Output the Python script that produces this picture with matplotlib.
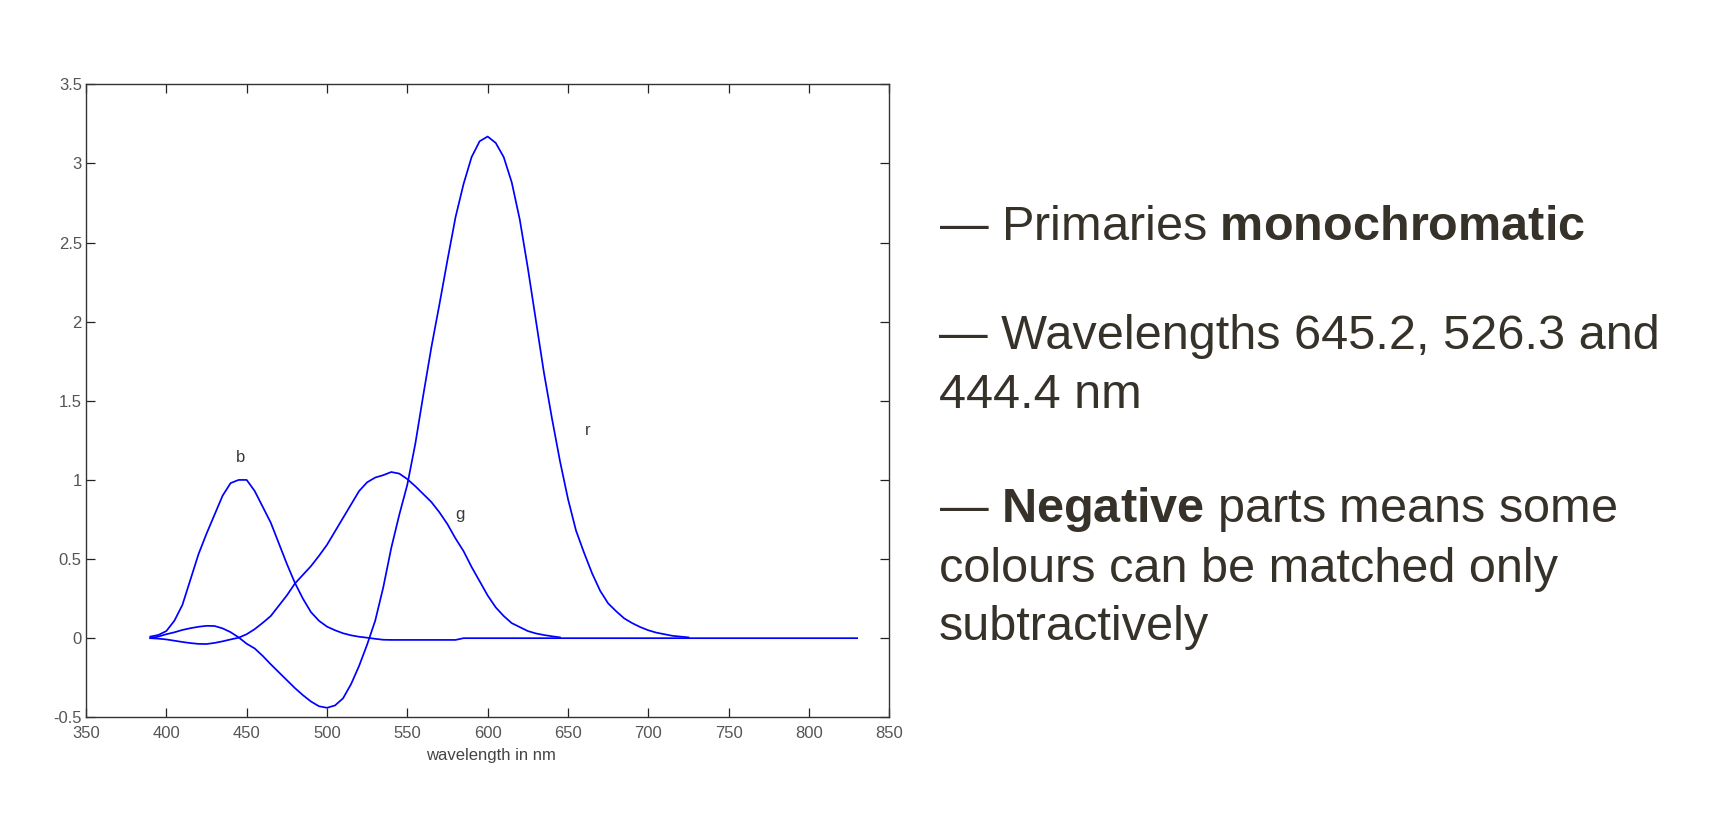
import matplotlib
matplotlib.use("Agg")
import matplotlib.pyplot as plt
from matplotlib.ticker import FormatStrFormatter, MultipleLocator

# ── Data ──────────────────────────────────────────────
r_nm = [390, 395, 400, 405, 410, 415, 420, 425, 430, 435, 440, 445, 450, 455,
        460, 465, 470, 475, 480, 485, 490, 495, 500, 505, 510, 515, 520, 525,
        530, 535, 540, 545, 550, 555, 560, 565, 570, 575, 580, 585, 590, 595,
        600, 605, 610, 615, 620, 625, 630, 635, 640, 645, 650, 655, 660, 665,
        670, 675, 680, 685, 690, 695, 700, 705, 710, 715, 720, 725]
r_val = [0.00, 0.01, 0.025, 0.037, 0.052, 0.063, 0.072, 0.078, 0.077, 0.062,
         0.038, 0.005, -0.035, -0.065, -0.112, -0.165, -0.215, -0.265, -0.315,
         -0.36, -0.40, -0.43, -0.44, -0.425, -0.38, -0.29, -0.175, -0.04,
         0.11, 0.32, 0.57, 0.78, 0.97, 1.23, 1.54, 1.84, 2.11, 2.39, 2.66,
         2.87, 3.04, 3.14, 3.17, 3.13, 3.04, 2.88, 2.645, 2.34, 2.01, 1.68,
         1.39, 1.12, 0.88, 0.68, 0.54, 0.41, 0.30, 0.22, 0.17, 0.125, 0.095,
         0.07, 0.05, 0.035, 0.025, 0.015, 0.01, 0.005]

g_nm = [390, 395, 400, 405, 410, 415, 420, 425, 430, 435, 440, 445, 450, 455,
        460, 465, 470, 475, 480, 485, 490, 495, 500, 505, 510, 515, 520, 525,
        530, 535, 540, 545, 550, 555, 560, 565, 570, 575, 580, 585, 590, 595,
        600, 605, 610, 615, 620, 625, 630, 635, 640, 645]
g_val = [0.0, -0.003, -0.008, -0.016, -0.024, -0.031, -0.036, -0.037, -0.030,
         -0.020, -0.008, 0.003, 0.025, 0.057, 0.097, 0.14, 0.205, 0.27, 0.345,
         0.40, 0.455, 0.52, 0.59, 0.675, 0.76, 0.845, 0.93, 0.985, 1.015,
         1.03, 1.05, 1.04, 1.005, 0.96, 0.91, 0.86, 0.795, 0.72, 0.63, 0.55,
         0.45, 0.36, 0.27, 0.195, 0.14, 0.095, 0.07, 0.045, 0.03, 0.02,
         0.012, 0.005]

b_nm = [390, 395, 400, 405, 410, 415, 420, 425, 430, 435, 440, 445, 450, 455,
        460, 465, 470, 475, 480, 485, 490, 495, 500, 505, 510, 515, 520, 525,
        530, 535, 540, 580, 585, 830]
b_val = [0.01, 0.02, 0.045, 0.11, 0.21, 0.37, 0.53, 0.66, 0.78, 0.90, 0.98,
         1.0, 1.0, 0.93, 0.83, 0.73, 0.60, 0.47, 0.35, 0.25, 0.165, 0.11,
         0.073, 0.05, 0.031, 0.018, 0.009, 0.003, -0.004, -0.01, -0.011,
         -0.011, 0.0, 0.0]

curve_labels = ["b", "g", "r"]
label_nm = [446, 583, 662]
label_val = [1.14, 0.78, 1.31]

bullets = [
    r"— Primaries $\mathbf{monochromatic}$",
    "— Wavelengths 645.2, 526.3 and",
    "444.4 nm",
    r"— $\mathbf{Negative}$ parts means some",
    "colours can be matched only",
    "subtractively",
]
bullet_baselines = [240.5, 349.3, 408.3, 522.0, 581.5, 640.5]   # pixels from top

# ── Style ─────────────────────────────────────────────
plt.rcParams['font.family'] = ['Liberation Sans', 'DejaVu Sans']
plt.rcParams['mathtext.fontset'] = 'custom'
plt.rcParams['mathtext.rm'] = 'Liberation Sans'
plt.rcParams['mathtext.bf'] = 'Liberation Sans:bold'

W, H = 1716, 818
fig = plt.figure(figsize=(W / 100, H / 100), dpi=100)
ax = fig.add_axes([86 / W, 1 - 717.3 / H, 803.3 / W, 633 / H])

line_kw = dict(color="#0000ff", lw=1.25)
ax.plot(r_nm, r_val, **line_kw)
ax.plot(g_nm, g_val, **line_kw)
ax.plot(b_nm, b_val, **line_kw)

for txt, x, y in zip(curve_labels, label_nm, label_val):
    ax.text(x, y, txt, fontsize=12, color="#3a3a3a", ha="center", va="center")

ax.set_xlim(350, 850)
ax.set_ylim(-0.5, 3.5)
ax.xaxis.set_major_locator(MultipleLocator(50))
ax.yaxis.set_major_locator(MultipleLocator(0.5))
ax.yaxis.set_major_formatter(FormatStrFormatter("%g"))

ax.tick_params(direction="in", length=6.5, width=0.9, color="#222222",
               top=True, right=True, labelsize=12, labelcolor="#555555")
ax.tick_params(axis="x", pad=6)
ax.tick_params(axis="y", pad=3)
for s in ax.spines.values():
    s.set_color("#333333")
    s.set_linewidth(1.0)

ax.set_xlabel("wavelength in nm", fontsize=12, color="#444444")
ax.xaxis.set_label_coords(0.504, -0.06)
ax.xaxis.label.set_va("center")

# ── Text block on the right ───────────────────────────
for txt, yb in zip(bullets, bullet_baselines):
    fig.text(939 / W, 1 - yb / H, txt, fontsize=35, color="#36322a",
             ha="left", va="baseline")

fig.savefig("out.png", dpi=100, facecolor="white")
